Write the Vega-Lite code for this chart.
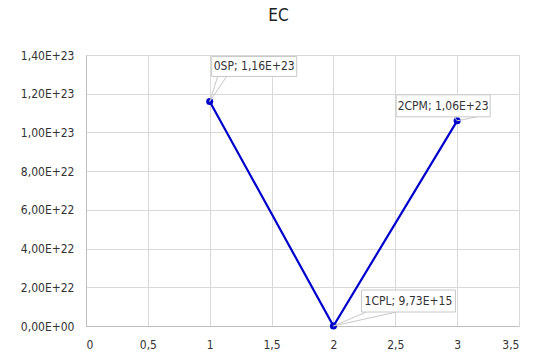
{
  "$schema": "https://vega.github.io/schema/vega-lite/v6.json",
  "width": 433,
  "height": 271,
  "autosize": {"type": "none"},
  "padding": {"left": 86, "top": 55, "right": 18, "bottom": 31},
  "background": "white",
  "title": {"text": "EC", "fontSize": 17, "font": "DejaVu Sans Condensed, Roboto, sans-serif", "fontWeight": "normal", "color": "#222222", "offset": 24, "dx": -24},
  "config": {
    "view": {"stroke": null},
    "font": "DejaVu Sans Condensed, Roboto, sans-serif",
    "axis": {"labelFont": "DejaVu Sans Condensed, Roboto, sans-serif", "labelFontSize": 12, "labelColor": "#333333", "gridColor": "#d9d9d9", "domainColor": "#bfbfbf", "ticks": false, "title": null}
  },
  "data": {"values": [
    {"x": 1, "y": 1.16e23, "name": "0SP", "label": "0SP; 1,16E+23"},
    {"x": 2, "y": 9.73e15, "name": "1CPL", "label": "1CPL; 9,73E+15"},
    {"x": 3, "y": 1.06e23, "name": "2CPM", "label": "2CPM; 1,06E+23"}
  ]},
  "encoding": {
    "x": {"field": "x", "type": "quantitative", "scale": {"domain": [0, 3.5], "nice": false},
      "axis": {"values": [0, 0.5, 1, 1.5, 2, 2.5, 3, 3.5], "labelExpr": "replace(toString(datum.value), '.', ',')", "labelPadding": 13, "domain": true, "grid": true}},
    "y": {"field": "y", "type": "quantitative", "scale": {"domain": [0, 1.4e23], "nice": false},
      "axis": {"values": [0, 2e22, 4e22, 6e22, 8e22, 1e23, 1.2e23, 1.4e23], "labelExpr": "datum.value == 0 ? '0,00E+00' : upper(replace(format(datum.value, '.2e'), '.', ','))", "labelPadding": 12, "domain": true, "grid": true}}
  },
  "layer": [
    {"mark": {"type": "line", "color": "#0000CC", "strokeWidth": 2.2}},
    {"mark": {"type": "circle", "color": "#0000CC", "size": 50, "opacity": 1}},

    {"transform": [{"filter": "datum.name == '0SP'"}],
     "mark": {"type": "rule", "color": "#c8c8c8", "strokeWidth": 1, "x2Offset": 8, "y2Offset": -25},
     "encoding": {"x2": {"field": "x"}, "y2": {"field": "y"}}},
    {"transform": [{"filter": "datum.name == '0SP'"}],
     "mark": {"type": "rule", "color": "#c8c8c8", "strokeWidth": 1, "x2Offset": 17, "y2Offset": -25},
     "encoding": {"x2": {"field": "x"}, "y2": {"field": "y"}}},
    {"transform": [{"filter": "datum.name == '0SP'"}],
     "mark": {"type": "rect", "fill": "white", "stroke": "#c8c8c8", "strokeWidth": 1, "xOffset": 2, "x2Offset": 87, "yOffset": -45, "y2Offset": -25},
     "encoding": {"x2": {"field": "x"}, "y2": {"field": "y"}}},
    {"transform": [{"filter": "datum.name == '0SP'"}],
     "mark": {"type": "text", "fontSize": 12, "color": "#333333", "dx": 44.5, "dy": -35, "align": "center", "baseline": "middle"},
     "encoding": {"text": {"field": "label"}}},

    {"transform": [{"filter": "datum.name == '1CPL'"}],
     "mark": {"type": "rule", "color": "#c8c8c8", "strokeWidth": 1, "x2Offset": 33, "y2Offset": -14},
     "encoding": {"x2": {"field": "x"}, "y2": {"field": "y"}}},
    {"transform": [{"filter": "datum.name == '1CPL'"}],
     "mark": {"type": "rule", "color": "#c8c8c8", "strokeWidth": 1, "x2Offset": 63, "y2Offset": -14},
     "encoding": {"x2": {"field": "x"}, "y2": {"field": "y"}}},
    {"transform": [{"filter": "datum.name == '1CPL'"}],
     "mark": {"type": "rect", "fill": "white", "stroke": "#c8c8c8", "strokeWidth": 1, "xOffset": 28, "x2Offset": 122, "yOffset": -36, "y2Offset": -14},
     "encoding": {"x2": {"field": "x"}, "y2": {"field": "y"}}},
    {"transform": [{"filter": "datum.name == '1CPL'"}],
     "mark": {"type": "text", "fontSize": 12, "color": "#333333", "dx": 75, "dy": -25, "align": "center", "baseline": "middle"},
     "encoding": {"text": {"field": "label"}}},

    {"transform": [{"filter": "datum.name == '2CPM'"}],
     "mark": {"type": "rule", "color": "#c8c8c8", "strokeWidth": 1, "x2Offset": -3, "y2Offset": -4},
     "encoding": {"x2": {"field": "x"}, "y2": {"field": "y"}}},
    {"transform": [{"filter": "datum.name == '2CPM'"}],
     "mark": {"type": "rule", "color": "#c8c8c8", "strokeWidth": 1, "x2Offset": 20, "y2Offset": -4},
     "encoding": {"x2": {"field": "x"}, "y2": {"field": "y"}}},
    {"transform": [{"filter": "datum.name == '2CPM'"}],
     "mark": {"type": "rect", "fill": "white", "stroke": "#c8c8c8", "strokeWidth": 1, "xOffset": -61, "x2Offset": 33, "yOffset": -26, "y2Offset": -4},
     "encoding": {"x2": {"field": "x"}, "y2": {"field": "y"}}},
    {"transform": [{"filter": "datum.name == '2CPM'"}],
     "mark": {"type": "text", "fontSize": 12, "color": "#333333", "dx": -14, "dy": -15, "align": "center", "baseline": "middle"},
     "encoding": {"text": {"field": "label"}}}
  ]
}
